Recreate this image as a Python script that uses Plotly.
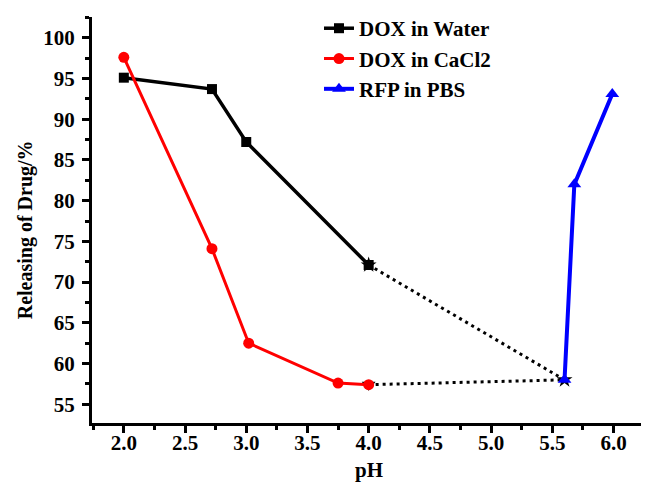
import plotly.graph_objects as go

# DOX in Water
water_ph = [2.0, 2.72, 3.0, 4.0]
water_rel = [95.1, 93.7, 87.2, 72.1]
# DOX in CaCl2
cacl_ph = [2.0, 2.72, 3.02, 3.75, 4.0]
cacl_rel = [97.6, 74.1, 62.5, 57.6, 57.4]
# RFP in PBS
pbs_ph = [5.6, 5.68, 5.99]
pbs_rel = [58.0, 82.0, 93.1]
# dotted connector
conn_ph = [4.0, 5.6, 4.0]
conn_rel = [72.1, 58.0, 57.4]
conn_symbols = ["star", "star", "triangle-down"]

x_ticks = [2.0, 2.5, 3.0, 3.5, 4.0, 4.5, 5.0, 5.5, 6.0]
y_ticks = [55, 60, 65, 70, 75, 80, 85, 90, 95, 100]

FONT = "Liberation Serif"

fig = go.Figure()
fig.add_trace(go.Scatter(
    x=conn_ph, y=conn_rel, mode="lines+markers", showlegend=False,
    line=dict(color="black", width=3, dash="3px,4px"),
    marker=dict(symbol=conn_symbols, size=12, color="black")))
fig.add_trace(go.Scatter(
    x=water_ph, y=water_rel, mode="lines+markers", name="DOX in Water",
    line=dict(color="black", width=3.5),
    marker=dict(symbol="square", size=10, color="black")))
fig.add_trace(go.Scatter(
    x=cacl_ph, y=cacl_rel, mode="lines+markers", name="DOX in CaCl2",
    line=dict(color="#ff0000", width=3),
    marker=dict(symbol="circle", size=11, color="#ff0000")))
fig.add_trace(go.Scatter(
    x=pbs_ph, y=pbs_rel, mode="lines+markers", name="RFP in PBS",
    line=dict(color="#0000ff", width=4),
    marker=dict(symbol="triangle-up", size=12, color="#0000ff")))

axis_common = dict(
    showline=True, linecolor="black", linewidth=3, showgrid=False, zeroline=False,
    ticks="outside", ticklen=7, tickwidth=3, tickcolor="black",
    tickfont=dict(family=FONT, size=21, color="black", weight="bold"),
    mirror=False, automargin=False,
)

fig.update_xaxes(
    range=[1.74, 6.29], tickvals=x_ticks, ticktext=[f"{v:.1f}" for v in x_ticks],
    ticklabelstandoff=-8,
    minor=dict(ticks="outside", ticklen=4, tickwidth=3, tickcolor="black", dtick=0.25, tick0=0),
    **axis_common)
fig.update_yaxes(
    range=[52.7, 102.55], tickvals=y_ticks, ticklabelstandoff=3,
    minor=dict(ticks="outside", ticklen=4, tickwidth=3, tickcolor="black", dtick=2.5, tick0=0),
    **axis_common)

fig.add_annotation(text="<b>pH</b>", xref="x", yref="paper", x=4.0, y=-0.115,
                   xanchor="center", yanchor="middle", showarrow=False,
                   font=dict(family=FONT, size=21, color="black"))
fig.add_annotation(text="<b>Releasing of Drug/%</b>", xref="paper", yref="paper",
                   x=-0.12, y=0.475, xanchor="center", yanchor="middle", showarrow=False,
                   textangle=-90, font=dict(family=FONT, size=20, color="black"))

# page body has an 8px default margin, so the figure is drawn 8px smaller
fig.update_layout(
    width=641, height=482,
    margin=dict(l=84, r=0, t=5, b=67),
    plot_bgcolor="white", paper_bgcolor="white",
    legend=dict(x=0.4075, y=1.022, xanchor="left", yanchor="top",
                font=dict(family=FONT, size=21, color="black", weight="bold"),
                bgcolor="rgba(0,0,0,0)", tracegroupgap=0),
)

fig.write_html("out.html")
